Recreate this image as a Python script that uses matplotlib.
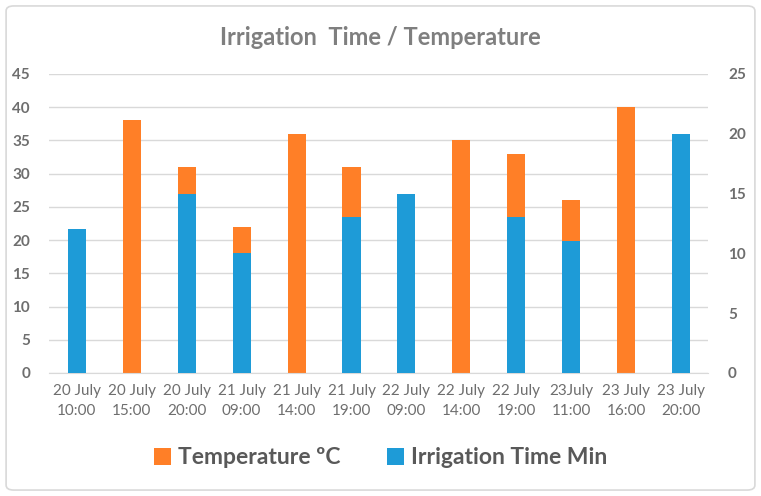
import numpy as np
import matplotlib
matplotlib.use("Agg")
import matplotlib.pyplot as plt
from matplotlib.patches import FancyBboxPatch

# categories and values
labels = ["20 July\n10:00", "20 July\n15:00", "20 July\n20:00", "21 July\n09:00",
          "21 July\n14:00", "21 July\n19:00", "22 July\n09:00", "22 July\n14:00",
          "22 July\n19:00", "23July\n11:00", "23 July\n16:00", "23 July\n20:00"]
temperature = [np.nan, 38, 31, 22, 36, 31, np.nan, 35, 33, 26, 40, np.nan]
irrigation = [12, np.nan, 15, 10, np.nan, 13, 15, np.nan, 13, 11, np.nan, 20]

orange = "#FF7F27"
blue = "#1E9BD7"
text_gray = "#595959"
tick_gray = "#6E6E6E"
grid_gray = "#D9D9D9"

plt.rcParams["font.family"] = ["Lato", "DejaVu Sans"]

fig = plt.figure(figsize=(7.61, 4.96), dpi=100)
fig.patches.append(FancyBboxPatch((0.008, 0.012), 0.984, 0.976,
                                  boxstyle="round,pad=0,rounding_size=0.01",
                                  transform=fig.transFigure, facecolor="none",
                                  edgecolor=grid_gray, linewidth=1.2))

ax = fig.add_axes([0.065, 0.248, 0.866, 0.603])
ax2 = ax.twinx()

x = np.arange(len(labels))
width = 0.33
ax.bar(x, temperature, width, color=orange, label="Temperature ºC", zorder=2)
ax2.bar(x, irrigation, width, color=blue, label="Irrigation Time Min", zorder=3)

ax.set_xlim(-0.5, len(labels) - 0.5)
ax.set_ylim(0, 45)
ax.set_yticks(range(0, 46, 5))
ax2.set_ylim(0, 25)
ax2.set_yticks(range(0, 26, 5))

ax.set_xticks(x)
ax.set_xticklabels(labels, fontsize=10.5, color=tick_gray, linespacing=1.5)
ax.grid(axis="y", color=grid_gray, linewidth=1, zorder=0)
ax.set_axisbelow(True)

for a in (ax, ax2):
    for s in a.spines.values():
        s.set_visible(False)
    a.tick_params(length=0, labelsize=11, labelcolor=tick_gray)
ax.spines["bottom"].set_visible(True)
ax.spines["bottom"].set_color(grid_gray)
ax.tick_params(axis="y", pad=14)
ax.tick_params(axis="x", pad=8)
ax2.tick_params(axis="y", pad=14)
for t in ax.get_yticklabels() + ax2.get_yticklabels():
    t.set_fontweight("bold")

fig.text(0.5, 0.925, "Irrigation  Time / Temperature", ha="center", va="center",
         fontsize=17, fontweight="bold", color="#7F7F7F")

h1, l1 = ax.get_legend_handles_labels()
h2, l2 = ax2.get_legend_handles_labels()
fig.legend(h1 + h2, l1 + l2, loc="center", bbox_to_anchor=(0.5, 0.077), ncol=2,
           frameon=False, handlelength=0.75, handleheight=0.8, handletextpad=0.3,
           columnspacing=2.0, prop={"size": 16.5, "weight": "bold"},
           labelcolor=text_gray)

fig.savefig("out.png", dpi=100)
